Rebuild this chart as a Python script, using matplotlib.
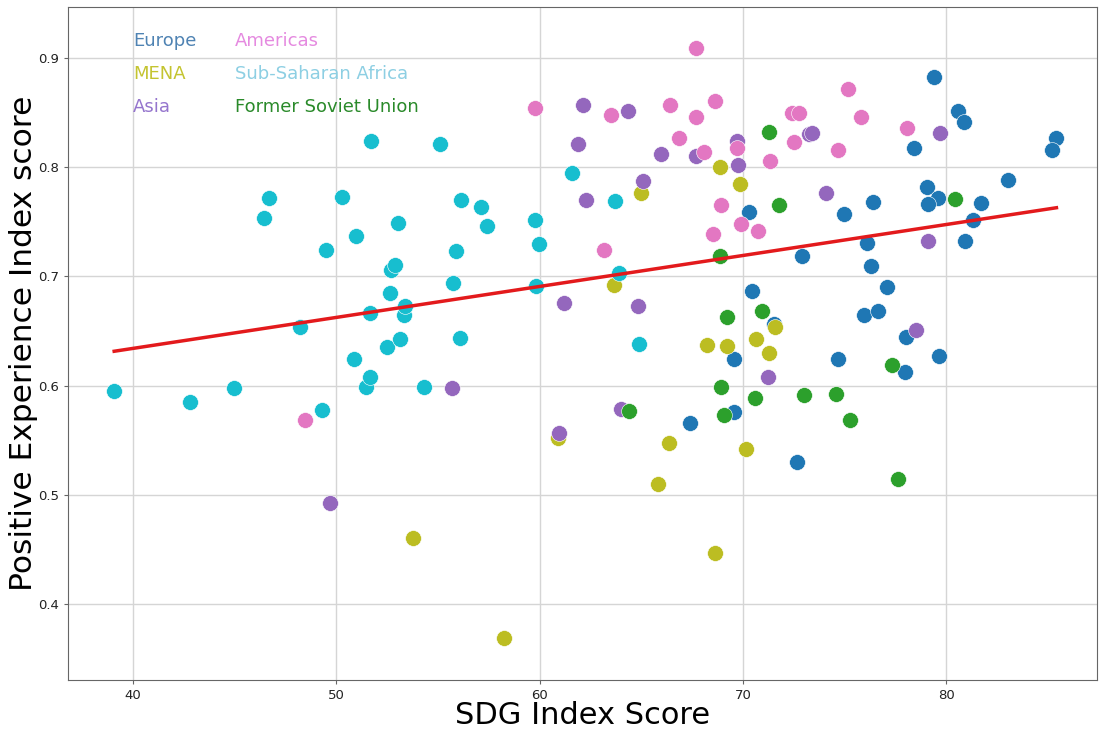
import numpy as np
import matplotlib
matplotlib.use('Agg')
import matplotlib.pyplot as plt


#####
# Data: SDG index score vs positive experience index score

europe_x = [70.29, 70.43, 71.50, 69.54, 69.54, 67.37, 79.39, 80.56, 80.85, 85.41,
            85.21, 78.39, 83.04, 79.05, 79.57, 79.10, 76.39, 74.95, 81.71, 81.30,
            80.93, 72.90, 76.10, 76.30, 77.08, 75.96, 76.62, 74.69, 78.03, 79.61,
            77.98, 72.65]
europe_y = [0.7587, 0.6866, 0.6564, 0.6241, 0.5758, 0.5655, 0.8823, 0.8515, 0.8417, 0.8265,
            0.8158, 0.8176, 0.7880, 0.7819, 0.7721, 0.7660, 0.7679, 0.7571, 0.7672, 0.7516,
            0.7324, 0.7187, 0.7303, 0.7095, 0.6903, 0.6649, 0.6686, 0.6241, 0.6448, 0.6274,
            0.6125, 0.5303]

mena_x = [68.85, 69.86, 64.96, 63.63, 68.21, 69.19, 70.62, 71.26, 71.59, 60.88,
          66.34, 70.13, 65.80, 68.63, 58.22, 53.76]
mena_y = [0.8005, 0.7846, 0.7761, 0.6919, 0.6372, 0.6363, 0.6430, 0.6296, 0.6539, 0.5517,
          0.5472, 0.5417, 0.5096, 0.4467, 0.3686, 0.4602]

asia_x = [49.69, 55.68, 61.17, 61.89, 62.14, 62.29, 64.32, 65.06, 64.81, 64.00,
          60.97, 65.96, 67.68, 69.70, 69.77, 71.24, 73.22, 73.39, 74.06, 79.70,
          79.10, 78.51]
asia_y = [0.4925, 0.5975, 0.6754, 0.8215, 0.8567, 0.7700, 0.8517, 0.7876, 0.6729, 0.5783,
          0.5563, 0.8118, 0.8100, 0.8243, 0.8020, 0.6081, 0.8304, 0.8316, 0.7766, 0.8316,
          0.7324, 0.6512]

americas_x = [48.46, 59.76, 63.52, 66.42, 67.67, 68.63, 67.70, 66.86, 68.09, 69.70,
              71.34, 68.93, 69.90, 68.53, 70.75, 63.16, 72.41, 72.73, 75.14, 75.78,
              78.07, 72.49, 74.67]
americas_y = [0.5685, 0.8545, 0.8478, 0.8567, 0.9092, 0.8603, 0.8457, 0.8265, 0.8139, 0.8179,
              0.8057, 0.7651, 0.7477, 0.7391, 0.7418, 0.7242, 0.8499, 0.8499, 0.8719, 0.8457,
              0.8359, 0.8231, 0.8155]

ssa_x = [39.07, 42.80, 44.97, 46.45, 46.69, 48.22, 49.50, 49.30, 50.28, 50.97,
         50.87, 51.71, 51.66, 51.46, 51.66, 52.50, 52.64, 52.69, 52.89, 53.04,
         53.14, 53.33, 53.38, 54.32, 55.10, 55.74, 55.89, 56.14, 56.09, 57.12,
         57.42, 59.78, 59.98, 59.83, 61.60, 63.71, 63.91, 64.90]
ssa_y = [0.5950, 0.5850, 0.5980, 0.7535, 0.7720, 0.6537, 0.7242, 0.5777, 0.7727, 0.7370,
         0.6244, 0.8240, 0.6665, 0.5987, 0.6079, 0.6354, 0.6848, 0.7059, 0.7104, 0.7489,
         0.6427, 0.6647, 0.6729, 0.5987, 0.8212, 0.6940, 0.7233, 0.7700, 0.6436, 0.7636,
         0.7462, 0.7517, 0.7297, 0.6912, 0.7947, 0.7690, 0.7031, 0.6381]

fsu_x = [71.29, 71.78, 68.85, 80.41, 69.21, 70.93, 68.92, 70.60, 69.04, 64.39,
         72.98, 74.57, 75.28, 77.33, 77.64]
fsu_y = [0.8320, 0.7651, 0.7191, 0.7712, 0.6631, 0.6680, 0.5987, 0.5889, 0.5731, 0.5770,
         0.5917, 0.5923, 0.5685, 0.6189, 0.5142]

groups = [
    ('Europe', europe_x, europe_y, 'tab:blue', '#4f83b3'),
    ('MENA', mena_x, mena_y, 'tab:olive', '#c4c430'),
    ('Asia', asia_x, asia_y, 'tab:purple', '#9575cd'),
    ('Americas', americas_x, americas_y, 'tab:pink', '#e58ae0'),
    ('Sub-Saharan Africa', ssa_x, ssa_y, 'tab:cyan', '#8dcfe3'),
    ('Former Soviet Union', fsu_x, fsu_y, 'tab:green', '#2a8a2a'),
]

#####
# Plot

fig = plt.figure(figsize=(10.99, 7.31), dpi=100)
ax = fig.add_axes([0.0619, 0.0697, 0.9362, 0.9207])

for name, xs, ys, color, _ in groups:
    ax.scatter(xs, ys, s=130, color=color, edgecolors='white', linewidths=0.4, zorder=3)

# linear fit over all countries
all_x = np.concatenate([g[1] for g in groups])
all_y = np.concatenate([g[2] for g in groups])
slope, intercept = np.polyfit(all_x, all_y, 1)
line_x = np.array([all_x.min(), all_x.max()])
ax.plot(line_x, slope * line_x + intercept, color='#e31a1c', linewidth=2.5, zorder=4)

# region labels instead of a legend box
label_pos = [(40, 0.9155), (40, 0.8853), (40, 0.855),
             (45, 0.9155), (45, 0.8853), (45, 0.855)]
for (name, _, _, _, tcolor), (tx, ty) in zip(groups, label_pos):
    ax.text(tx, ty, name, color=tcolor, fontsize=13, va='center', ha='left')

ax.set_xlim(36.8, 87.4)
ax.set_ylim(0.3304, 0.9467)
ax.set_xticks([40, 50, 60, 70, 80])
ax.set_yticks([0.4, 0.5, 0.6, 0.7, 0.8, 0.9])
ax.grid(True, color='#d5d5d5', linewidth=1)
ax.set_axisbelow(True)
for sp in ax.spines.values():
    sp.set_color('#666666')
ax.tick_params(labelsize=9.5, length=3, color='#666666', labelcolor='#222222')

ax.set_xlabel('SDG Index Score', fontsize=22, labelpad=-1)
ax.set_ylabel('Positive Experience Index score', fontsize=22.5, labelpad=0)

fig.savefig('out.png', dpi=100)
